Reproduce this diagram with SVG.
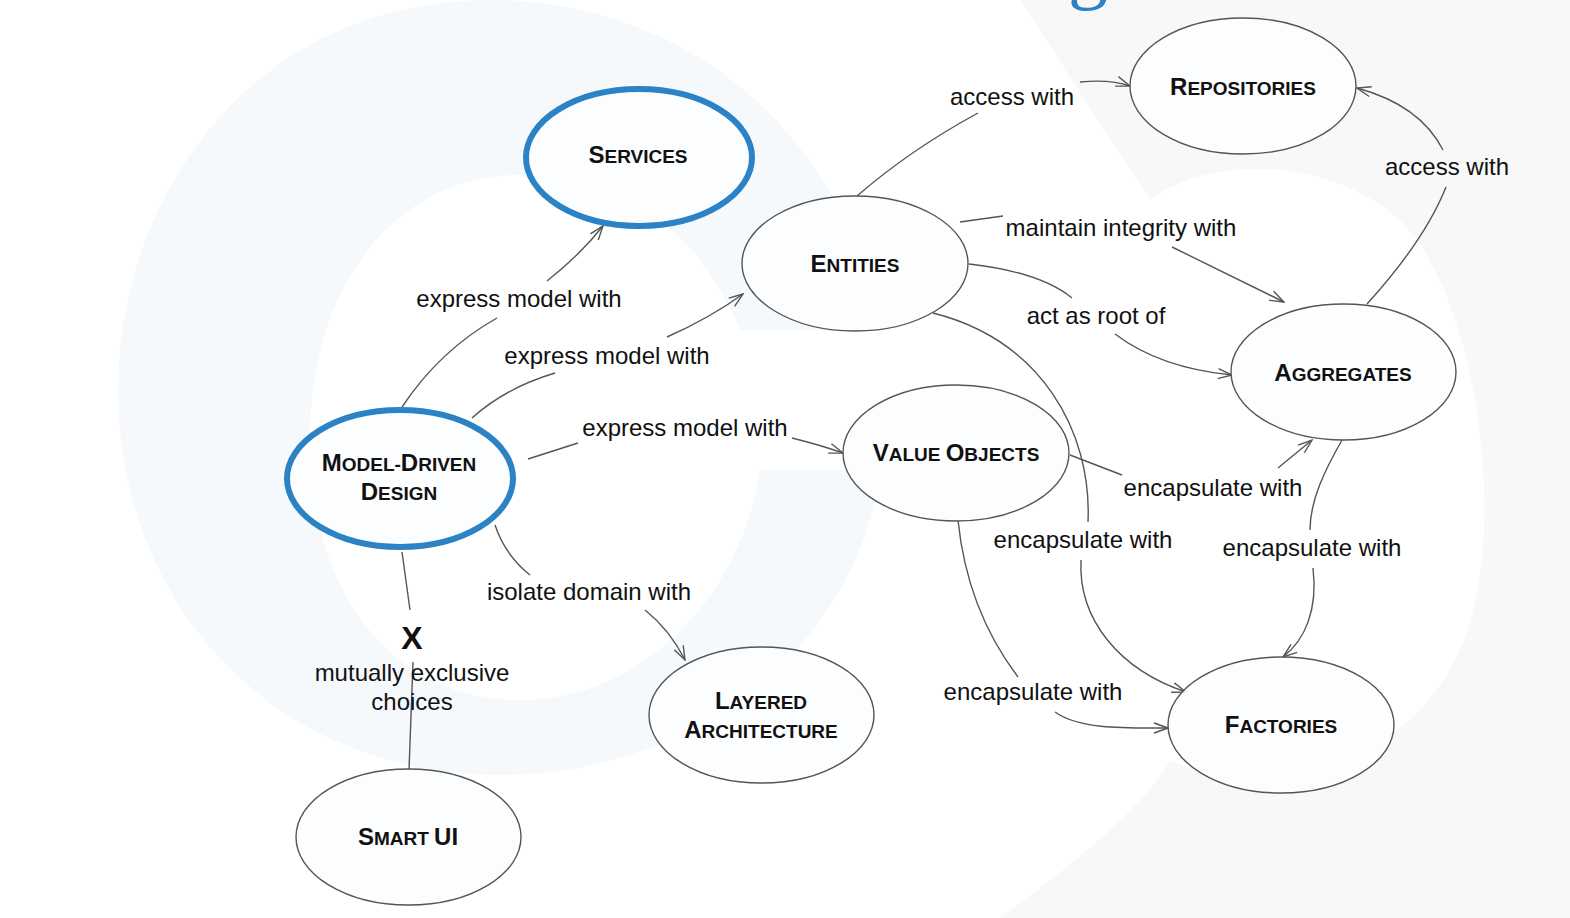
<svg xmlns="http://www.w3.org/2000/svg" width="1570" height="918" viewBox="0 0 1570 918">
<style>
.node{fill:#fcfdfe;fill-opacity:0.9;stroke:#555;stroke-width:1.4}
.hl{fill:#fcfdfe;stroke:#2b83c5;stroke-width:6}
.nt{font-family:"Liberation Sans",Arial,sans-serif;font-weight:bold;fill:#111;text-anchor:middle}
.b{font-size:24px}
.s{font-size:19px}
.lbl{font-family:"Liberation Sans",Arial,sans-serif;font-size:24px;fill:#111;text-anchor:middle}
.c{fill:none;stroke:#555;stroke-width:1.4}
.a{marker-end:url(#arr)}
</style>
<defs>
<marker id="arr" markerUnits="userSpaceOnUse" viewBox="0 0 16 16" refX="15" refY="8" markerWidth="16" markerHeight="16" orient="auto">
<path d="M1,3 L15,8 L1,13" fill="none" stroke="#555" stroke-width="1.4"/>
</marker>
</defs>
<rect width="1570" height="918" fill="#ffffff"/>
<g id="watermark">
<path d="M490,0 C250,0 118,200 118,390 C118,600 270,775 500,775 C700,775 860,640 880,470 L760,470 C740,600 640,700 520,700 C390,700 310,590 310,440 C310,280 400,175 520,175 C620,175 700,230 740,330 L880,330 C850,150 700,0 490,0 Z" fill="#f6f9fc"/>
<path d="M1020,0 L1570,0 L1570,918 L1000,918 C1080,860 1150,800 1170,760 C1250,800 1400,780 1460,650 C1510,540 1480,300 1400,220 C1320,150 1200,160 1150,200 Z" fill="#f8f8f9"/>
<text x="1088" y="-6" font-family="Liberation Serif,Times New Roman,serif" font-size="80" fill="#2b83c5" text-anchor="middle">g</text>
</g>
<g id="connectors">
<path class="c" d="M402,407 Q440,350 497,318"/>
<path class="c a" d="M547,281 Q580,255 603,226"/>
<path class="c" d="M472,418 Q505,388 555,373"/>
<path class="c a" d="M667,337 Q710,318 743,294"/>
<path class="c" d="M528,459 L578,443"/>
<path class="c a" d="M792,438 Q820,445 843,453"/>
<path class="c" d="M495,525 Q505,555 530,575"/>
<path class="c a" d="M645,610 Q670,630 685,660"/>
<path class="c" d="M402,552 L410,610"/>
<path class="c" d="M413,662 L409,770"/>
<path class="c" d="M857,196 Q910,150 978,113"/>
<path class="c a" d="M1080,82 Q1110,79 1130,86"/>
<path class="c" d="M1367,304 Q1425,240 1446,187"/>
<path class="c a" d="M1443,150 Q1420,105 1357,88"/>
<path class="c" d="M960,222 L1003,216"/>
<path class="c a" d="M1172,247 L1284,302"/>
<path class="c" d="M969,264 Q1040,272 1072,298"/>
<path class="c a" d="M1115,334 Q1160,368 1232,375"/>
<path class="c" d="M1070,455 L1122,475"/>
<path class="c a" d="M1278,468 L1312,440"/>
<path class="c" d="M933,313 C1040,340 1092,430 1088,522"/>
<path class="c a" d="M1081,560 C1078,620 1120,670 1186,692"/>
<path class="c" d="M958,520 C965,590 990,640 1018,677"/>
<path class="c a" d="M1055,712 C1080,730 1130,728 1168,728"/>
<path class="c" d="M1342,440 C1325,470 1310,500 1310,530"/>
<path class="c a" d="M1313,568 C1318,610 1305,640 1283,657"/>
<text class="lbl" x="519" y="307">express model with</text>
<text class="lbl" x="607" y="364">express model with</text>
<text class="lbl" x="685" y="436">express model with</text>
<text class="lbl" x="589" y="600">isolate domain with</text>
<text x="412" y="649" font-family="Liberation Sans,Arial,sans-serif" font-weight="bold" font-size="32" fill="#111" text-anchor="middle">X</text>
<text class="lbl" x="412" y="681">mutually exclusive</text>
<text class="lbl" x="412" y="710">choices</text>
<text class="lbl" x="1012" y="105">access with</text>
<text class="lbl" x="1447" y="175">access with</text>
<text class="lbl" x="1121" y="236">maintain integrity with</text>
<text class="lbl" x="1096" y="324">act as root of</text>
<text class="lbl" x="1213" y="496">encapsulate with</text>
<text class="lbl" x="1083" y="548">encapsulate with</text>
<text class="lbl" x="1312" y="556">encapsulate with</text>
<text class="lbl" x="1033" y="700">encapsulate with</text>
</g>
<g id="services">
<ellipse class="hl" cx="639" cy="157.5" rx="113" ry="68.5"/>
<text class="nt" x="638" y="163"><tspan class="b">S</tspan><tspan class="s">ERVICES</tspan></text>
</g>
<g id="model-driven-design">
<ellipse class="hl" cx="400" cy="478.5" rx="113" ry="68.5"/>
<text class="nt" x="399" y="471"><tspan class="b">M</tspan><tspan class="s">ODEL-</tspan><tspan class="b">D</tspan><tspan class="s">RIVEN</tspan></text>
<text class="nt" x="399" y="500"><tspan class="b">D</tspan><tspan class="s">ESIGN</tspan></text>
</g>
<g id="entities">
<ellipse class="node" cx="855" cy="263.5" rx="113" ry="67.5"/>
<text class="nt" x="855" y="272"><tspan class="b">E</tspan><tspan class="s">NTITIES</tspan></text>
</g>
<g id="repositories">
<ellipse class="node" cx="1243" cy="86" rx="113" ry="68"/>
<text class="nt" x="1243" y="95"><tspan class="b">R</tspan><tspan class="s">EPOSITORIES</tspan></text>
</g>
<g id="aggregates">
<ellipse class="node" cx="1343.5" cy="372" rx="112.5" ry="68"/>
<text class="nt" x="1343" y="381"><tspan class="b">A</tspan><tspan class="s">GGREGATES</tspan></text>
</g>
<g id="value-objects">
<ellipse class="node" cx="956" cy="453" rx="113" ry="68"/>
<text class="nt" x="956" y="461"><tspan class="b">V</tspan><tspan class="s">ALUE </tspan><tspan class="b">O</tspan><tspan class="s">BJECTS</tspan></text>
</g>
<g id="factories">
<ellipse class="node" cx="1281" cy="725" rx="113" ry="68"/>
<text class="nt" x="1281" y="733"><tspan class="b">F</tspan><tspan class="s">ACTORIES</tspan></text>
</g>
<g id="layered-architecture">
<ellipse class="node" cx="761.5" cy="715" rx="112.5" ry="68"/>
<text class="nt" x="761" y="709"><tspan class="b">L</tspan><tspan class="s">AYERED</tspan></text>
<text class="nt" x="761" y="738"><tspan class="b">A</tspan><tspan class="s">RCHITECTURE</tspan></text>
</g>
<g id="smart-ui">
<ellipse class="node" cx="408.5" cy="837" rx="112.5" ry="68"/>
<text class="nt" x="408" y="845"><tspan class="b">S</tspan><tspan class="s">MART </tspan><tspan class="b">UI</tspan></text>
</g>
</svg>
